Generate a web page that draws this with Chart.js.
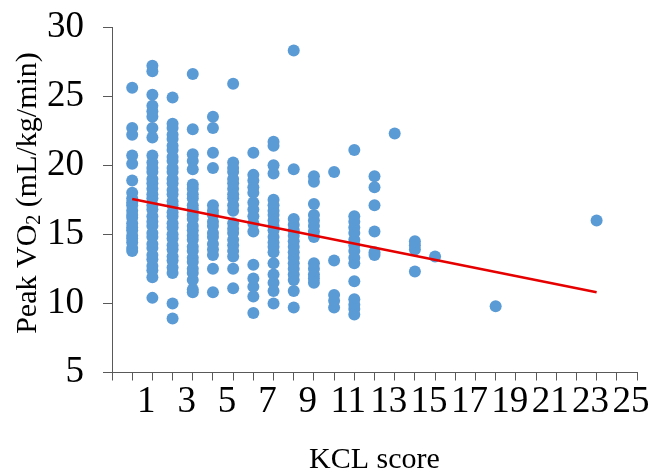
<!DOCTYPE html>
<html>
<head>
<meta charset="utf-8">
<script src="https://cdn.jsdelivr.net/npm/chart.js@4.4.0/dist/chart.umd.min.js"></script>
<style>
  body { margin: 0; background: #fff; }
  #wrap { width: 653px; height: 472px; }
</style>
</head>
<body>
<div id="wrap"><canvas id="myChart" width="653" height="472"></canvas></div>
<script>
// x position of each column of points on the axis
const kclScore = [1, 2, 3, 4, 5, 6, 7, 8, 9, 10, 11, 12, 13, 14, 15, 16, 19, 24];

// Peak VO2 values in each column (mL/kg/min)
const peakVO2 = [
  [25.6, 22.7, 22.2, 20.7, 20.1, 18.9, 18.0, 17.6, 17.3, 17.1, 16.7, 16.4, 16.2, 15.8, 15.5, 15.3, 14.9, 14.7, 14.4, 14.0, 13.8],
  [27.2, 26.8, 25.1, 24.3, 23.9, 23.5, 22.7, 22.0, 20.7, 20.2, 19.8, 19.5, 19.0, 18.7, 18.3, 17.9, 17.6, 17.1, 16.8, 16.3, 15.9, 15.6, 15.1, 14.8, 14.3, 14.0, 13.5, 13.2, 12.7, 12.4, 11.9, 10.4],
  [24.9, 23.0, 22.7, 22.2, 21.9, 21.4, 21.1, 20.6, 20.3, 19.8, 19.5, 19.0, 18.7, 18.2, 17.9, 17.4, 17.1, 16.6, 16.3, 15.8, 15.5, 15.0, 14.7, 14.2, 13.9, 13.4, 13.1, 12.6, 12.2, 10.0, 8.9],
  [26.6, 22.6, 20.8, 20.3, 19.7, 18.6, 18.3, 17.9, 17.6, 17.1, 16.8, 16.4, 16.1, 15.6, 15.3, 14.9, 14.6, 14.1, 13.8, 13.3, 13.0, 12.5, 12.2, 11.7, 11.0, 10.8],
  [23.5, 22.7, 20.9, 19.8, 17.1, 16.7, 16.4, 15.9, 15.6, 15.1, 14.8, 14.3, 13.9, 13.5, 12.5, 10.8],
  [25.9, 20.2, 19.8, 19.5, 19.0, 18.7, 18.3, 17.9, 17.6, 17.1, 16.7, 15.8, 15.4, 15.1, 14.6, 14.2, 13.8, 13.4, 12.5, 11.1],
  [20.9, 19.3, 18.9, 18.4, 18.0, 17.3, 16.8, 16.3, 15.8, 15.2, 12.8, 11.8, 11.2, 10.5, 9.3],
  [21.7, 21.4, 20.0, 19.4, 17.5, 17.1, 16.7, 16.4, 16.0, 15.6, 15.3, 14.8, 14.4, 14.1, 13.7, 12.9, 12.1, 11.5, 10.9, 10.0],
  [28.3, 19.7, 16.1, 15.7, 15.3, 14.9, 14.5, 14.1, 13.7, 13.3, 12.9, 12.5, 12.1, 11.7, 10.9, 9.7],
  [19.2, 18.8, 17.2, 16.4, 16.0, 15.6, 15.2, 14.8, 12.9, 12.5, 12.1, 11.8, 11.5],
  [19.5, 13.1, 10.6, 10.2, 9.7],
  [21.1, 16.3, 15.9, 15.5, 15.1, 14.6, 14.2, 13.8, 13.3, 12.9, 11.6, 10.3, 9.9, 9.6, 9.2],
  [19.2, 18.4, 17.1, 15.2, 13.7, 13.5],
  [22.3],
  [14.5, 14.2, 13.9, 12.3],
  [13.4],
  [9.8],
  [16.0]
];

// regression line end points
const trendX = [1, 24];
const trendY = [17.55, 10.8];

const yTicks = [5, 10, 15, 20, 25, 30];
const xTickLabels = [1, 3, 5, 7, 9, 11, 13, 15, 17, 19, 21, 23, 25];

const points = [];
kclScore.forEach((x, i) => {
  peakVO2[i].forEach((y) => points.push({ x: x, y: y }));
});

const axisColor = "#595959";
const serif = "'Liberation Serif', 'Times New Roman', serif";

// y axis title with subscript 2
const yTitle = {
  id: "yTitle",
  afterDraw(chart) {
    const ctx = chart.ctx;
    const parts = [
      { t: "Peak VO", size: 30, dy: 0 },
      { t: "2", size: 20, dy: 7 },
      { t: " (mL/kg/min)", size: 30, dy: 0 },
    ];
    ctx.save();
    ctx.fillStyle = "#000";
    ctx.textBaseline = "middle";
    ctx.textAlign = "left";
    let total = 0;
    parts.forEach((p) => {
      ctx.font = p.size + "px " + serif;
      p.w = ctx.measureText(p.t).width;
      total += p.w;
    });
    ctx.translate(28, 193);
    ctx.rotate(-Math.PI / 2);
    let pos = -total / 2;
    parts.forEach((p) => {
      ctx.font = p.size + "px " + serif;
      ctx.fillText(p.t, pos, p.dy);
      pos += p.w;
    });
    ctx.restore();
  },
};

const config = {
  data: {
    datasets: [
      {
        type: "line",
        data: trendX.map((x, i) => ({ x: x, y: trendY[i] })),
        borderColor: "rgb(230, 0, 0)",
        borderWidth: 2.5,
        pointRadius: 0,
        fill: false,
        order: 0,
      },
      {
        type: "scatter",
        data: points,
        backgroundColor: "#5B9BD5",
        borderWidth: 0,
        pointRadius: 6,
        order: 1,
      },
    ],
  },
  options: {
    responsive: false,
    animation: false,
    layout: { padding: { left: 0, top: 27, right: 16, bottom: 0 } },
    plugins: { legend: { display: false }, tooltip: { enabled: false } },
    scales: {
      x: {
        type: "linear",
        position: "bottom",
        weight: 0,
        min: 0,
        max: 26,
        ticks: { stepSize: 1, autoSkip: false, callback: () => "" },
        grid: { drawOnChartArea: false, tickLength: 8, color: axisColor },
        border: { color: axisColor },
        afterFit(scale) {
          scale.height = 8;
          scale.paddingLeft = 0;
          scale.paddingRight = 0;
        },
      },
      x2: {
        type: "linear",
        position: "bottom",
        weight: 1,
        min: 0,
        max: 26,
        afterBuildTicks(scale) {
          scale.ticks = xTickLabels.map((v) => ({ value: v + 0.7 }));
        },
        ticks: {
          autoSkip: false,
          maxRotation: 0,
          padding: 0,
          color: "#000",
          font: { family: serif, size: 37 },
          callback: (value, index) => xTickLabels[index],
        },
        grid: { display: false, drawTicks: false },
        border: { display: false },
        title: {
          display: true,
          text: "KCL score",
          color: "#000",
          font: { family: serif, size: 30 },
          padding: { top: 0, bottom: -6 },
        },
        afterFit(scale) {
          scale.height = 91.5;
          scale.paddingLeft = 0;
          scale.paddingRight = 0;
        },
      },
      y: {
        min: 5,
        max: 30,
        afterBuildTicks(scale) {
          scale.ticks = yTicks.map((v) => ({ value: v }));
        },
        ticks: {
          padding: 19,
          color: "#000",
          font: { family: serif, size: 37 },
        },
        grid: { drawOnChartArea: false, tickLength: 9, color: axisColor },
        border: { color: axisColor },
        afterFit(scale) {
          scale.width = 112;
          scale.paddingTop = 0;
          scale.paddingBottom = 0;
        },
      },
    },
  },
  plugins: [yTitle],
};

const myChart = new Chart(document.getElementById("myChart"), config);
</script>
</body>
</html>
